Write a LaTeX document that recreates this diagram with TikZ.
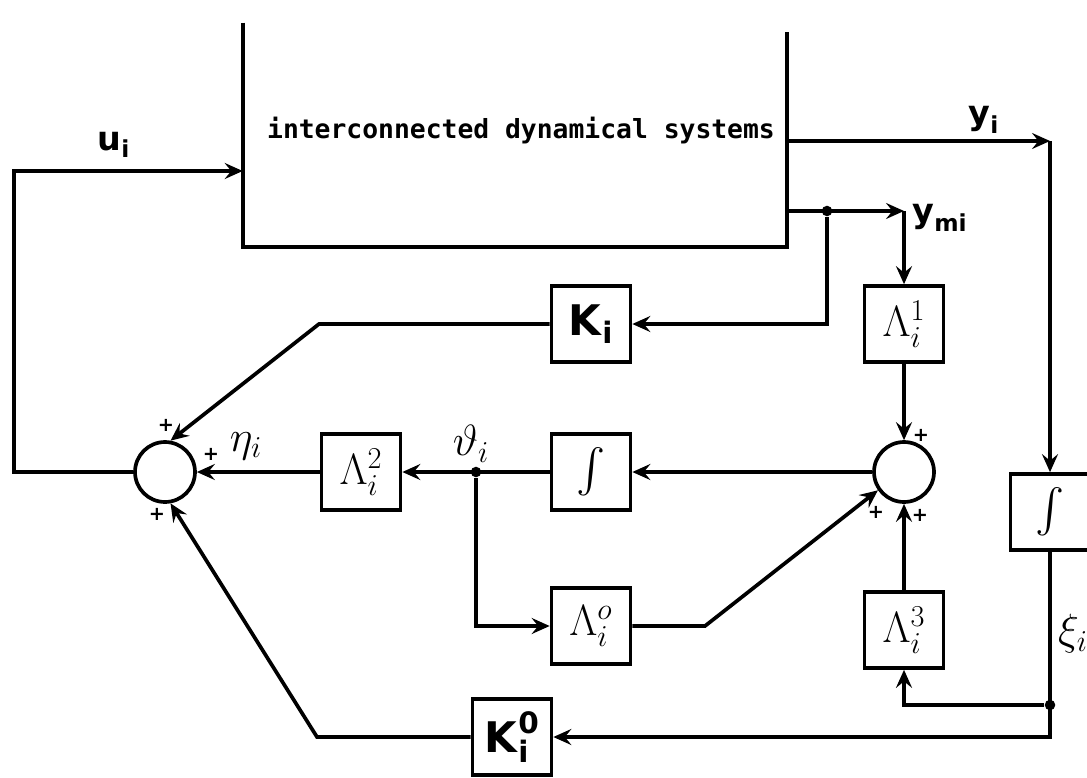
\documentclass[tikz,border=0pt]{standalone}
\usepackage{amsmath}
\usepackage{fontspec}
\setsansfont{DejaVu Sans}
\setmonofont{DejaVu Sans Mono}
\usetikzlibrary{arrows.meta}
\newcommand{\bsf}[1]{\textsf{\textbf{#1}}}

\begin{document}
\begin{tikzpicture}[
    x=0.02cm, y=-0.02cm,
    wire/.style={line width=2.1pt},
    flow/.style={wire, -{Stealth[length=3.6mm, width=3.2mm, inset=1.3mm]}},
    box/.style={draw, line width=2.1pt, minimum width=1.58cm, minimum height=1.52cm, inner sep=0pt, font=\fontsize{24}{28}\selectfont},
    sum/.style={draw, circle, line width=2.1pt, minimum size=1.2cm, inner sep=0pt},
    dot/.style={circle, fill, inner sep=0pt, minimum size=6pt},
    lbl/.style={font=\fontsize{19}{22}\selectfont, inner sep=1pt},
    glbl/.style={font=\fontsize{23}{26}\selectfont, inner sep=1pt},
    plus/.style={font=\sffamily\bfseries\fontsize{11}{11}\selectfont, inner sep=0pt}
]
\useasboundingbox (0,0) rectangle (1087,777);
\node[minimum width=10.88cm, minimum height=4.48cm, inner sep=0pt] (plant) at (515,135) {};
\node[font=\ttfamily\bfseries\fontsize{15}{18}\selectfont] (plantlbl) at (521,131) {interconnected dynamical systems};
\draw[wire] (plant.north west) -- (plant.south west) -- (plant.south east) -- ([yshift=-0.18cm]plant.north east);

\node[sum] (sumL) at (165,472) {};
\node[box] (lam2) at (361,472) {$\Lambda_i^2$};
\node[dot] (jt) at (476,472) {};
\node[box] (intM) at (591,472) {$\int$};
\node[sum] (sumR) at (904,472) {};
\node[box] (ki) at (591,324) {$\text{\bsf K}_{\text{\bsf i}}$};
\node[box] (lam1) at (904,324) {$\Lambda_i^1$};
\node[box] (lam0) at (591,626) {$\Lambda_i^{o}$};
\node[box] (lam3) at (904,630) {$\Lambda_i^3$};
\node[box] (k0) at (512,737) {$\text{\bsf K}_{\text{\bsf i}}^{\text{\bsf 0}}$};
\node[box] (intR) at (1050,512) {$\int$};
\node[dot] (jk) at (827,211) {};
\node[dot] (jx) at (1050,705) {};

\coordinate (ucorner) at (14,171);
\coordinate (ycorner) at (1050,141);
\coordinate (ymcorner) at (904,211);
\coordinate (kbend) at (319,324);
\coordinate (lbend) at (705,626);
\coordinate (k0bend) at (317,737);

\draw[flow] (sumL.west) -| (ucorner) -- (ucorner -| plant.west);
\draw[flow] (ycorner -| plant.east) -- (ycorner);
\draw[flow] (ycorner) -- (intR.north);
\draw[flow] (ymcorner -| plant.east) -- (ymcorner);
\draw[flow] (ymcorner) -- (lam1.north);
\draw[flow] (jk) |- (ki.east);
\draw[flow] (ki.west) -- (kbend) -- (sumL.80);
\draw[flow] (lam1.south) -- (sumR.north);
\draw[flow] (sumR.west) -- (intM.east);
\draw[flow] (intM.west) -- (lam2.east);
\draw[flow] (lam2.west) -- (sumL.east);
\draw[flow] (jt) |- (lam0.west);
\draw[flow] (lam0.east) -- (lbend) -- (sumR.215);
\draw[flow] (lam3.north) -- (sumR.south);
\draw[flow] (intR.south) |- (k0.east);
\draw[flow] (jx) -| (lam3.south);
\draw[flow] (k0.west) -- (k0bend) -- (sumL.-80);

\node[lbl] (ulbl) at (114,145) {$\text{\bsf u}_{\text{\bsf i}}$};
\node[lbl] (ylbl) at (984,120) {$\text{\bsf y}_{\text{\bsf i}}$};
\node[lbl] (ymlbl) at (940,218) {$\text{\bsf y}_{\text{\bsf{mi}}}$};
\node[glbl] (etalbl) at (246,446) {$\eta_i$};
\node[glbl] (thlbl) at (471,444) {$\vartheta_i$};
\node[glbl] (xilbl) at (1073,634) {$\xi_i$};

\node[plus] (pl1) at ([shift={(1,-47)}]sumL) {+};
\node[plus] (pl2) at ([shift={(46,-18)}]sumL) {+};
\node[plus] (pl3) at ([shift={(-8,42)}]sumL) {+};
\node[plus] (pr1) at ([shift={(17,-37)}]sumR) {+};
\node[plus] (pr2) at ([shift={(-28,40)}]sumR) {+};
\node[plus] (pr3) at ([shift={(16,43)}]sumR) {+};
\end{tikzpicture}
\end{document}
